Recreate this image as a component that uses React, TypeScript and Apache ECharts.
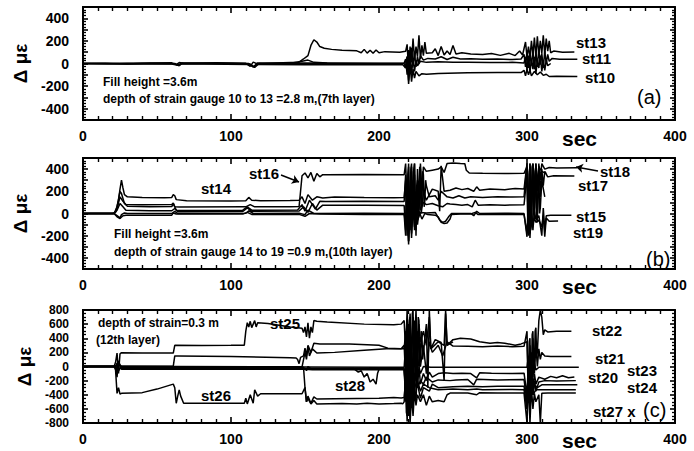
import React, { useEffect, useRef } from 'react';
import * as echarts from 'echarts';

// ---------- data (time in sec, strain change in micro-strain) ----------
const Y_LABELS_AB = [-400, -200, 0, 200, 400];
const Y_LABELS_C = [-800, -600, -400, -200, 0, 200, 400, 600, 800];

// Panel (a)
const A_ST13 = [[0,0],[15,3],[30,-4],[45,4],[60,6],[63,-10],[65,8],[68,2],[90,6],[110,2],[113,-25],[115,12],[118,-4],[135,6],[146,12],[149,40],[152,70],[154,160],[156,210],[158,190],[160,150],[163,135],[168,125],[175,118],[185,112],[188,95],[190,125],[192,92],[194,118],[196,90],[198,120],[200,95],[204,105],[214,100],[218,108],[219,170],[220,-60],[221,150],[222,10],[223,220],[224,30],[225,150],[226,60],[227,250],[228,40],[229,160],[230,70],[231,190],[232,90],[236,95],[238,130],[240,70],[242,150],[244,75],[246,110],[248,80],[250,160],[252,85],[256,95],[262,85],[270,80],[276,88],[282,72],[288,90],[292,70],[295,110],[297,75],[299,190],[300,60],[301,150],[302,50],[303,200],[304,70],[305,230],[306,60],[307,240],[308,80],[309,200],[310,90],[311,250],[312,80],[313,220],[314,110],[315,200],[316,95],[318,110],[324,100],[332,102]];
const A_ST11 = [[0,0],[20,-3],[40,2],[62,0],[64,-15],[67,5],[100,3],[112,0],[115,-30],[118,5],[140,3],[148,20],[152,30],[156,10],[165,5],[200,2],[217,5],[218,40],[219,-100],[220,120],[221,-60],[222,140],[223,-20],[224,90],[225,-30],[226,60],[227,0],[228,70],[230,30],[233,45],[238,40],[242,60],[246,35],[250,55],[255,40],[262,42],[270,38],[280,40],[290,35],[296,40],[298,80],[299,-30],[300,110],[301,-40],[302,90],[303,-20],[304,120],[305,-50],[306,100],[307,-30],[308,130],[309,-10],[310,90],[311,-40],[312,110],[313,0],[314,80],[315,20],[317,45],[322,38],[334,38]];
const A_ST12 = [[0,0],[30,2],[62,-3],[65,-20],[67,0],[113,-5],[116,-35],[119,0],[150,5],[175,3],[200,0],[217,0],[218,-40],[219,60],[220,-150],[221,80],[222,-90],[223,40],[224,-70],[225,30],[226,-20],[228,20],[232,10],[240,15],[250,10],[260,12],[275,8],[290,10],[298,5],[299,60],[300,-60],[301,70],[302,-80],[303,40],[304,-50],[305,60],[306,-90],[307,30],[308,-40],[309,70],[310,-70],[311,20],[312,-60],[313,30],[314,-20],[316,0]];
const A_ST10 = [[0,0],[30,-4],[60,-5],[64,-15],[67,-2],[112,-8],[115,-30],[118,-8],[150,-10],[190,-12],[216,-10],[218,-40],[219,60],[220,-180],[221,-10],[222,-160],[223,-50],[224,-130],[225,-70],[227,-110],[229,-90],[232,-95],[240,-88],[260,-82],[280,-80],[296,-80],[298,-60],[299,-110],[300,-50],[301,-100],[302,-60],[303,-110],[305,-70],[307,-100],[309,-75],[311,-105],[313,-95],[315,-115],[320,-112],[334,-115]];

// Panel (b)
const B_ST14 = [[0,0],[20,0],[22,10],[24,120],[25,220],[26,300],[27,230],[28,170],[30,150],[40,145],[55,142],[60,145],[61,170],[62,160],[63,125],[70,115],[100,112],[110,115],[112,145],[114,120],[120,115],[140,118],[146,120],[148,150],[150,90],[152,170],[155,120],[158,150],[162,140],[170,148],[190,145],[210,143],[217,145],[218,300],[218.5,-50],[219,-100],[219.5,350],[220,420],[220.5,0],[221,-50],[221.5,300],[222,380],[222.5,-20],[223,0],[223.5,400],[224,450],[224.5,-100],[225,-80],[225.5,250],[226,300],[226.5,0],[227,50],[227.5,420],[228,400],[228.5,80],[229,100],[229.5,380],[230,350],[230.5,60],[231,120],[231.5,300],[232,250],[234,150],[238,160],[240,120],[242,200],[246,150],[250,140],[254,160],[258,140],[262,150],[270,145],[280,150],[290,148],[298,150],[300,450],[300.5,0],[301,-100],[301.5,350],[302,400],[302.5,-80],[303,-50],[303.5,420],[304,450],[304.5,50],[305,0],[305.5,380],[306,420],[306.5,-50],[307,-80],[307.5,300],[308,380],[308.5,0],[309,50],[310,300],[312,150]];
const B_ST16 = [[0,0],[21,0],[23,40],[25,150],[27,110],[29,80],[40,78],[60,80],[61,95],[62,60],[65,58],[110,60],[113,80],[116,60],[140,60],[146,62],[147,200],[148,340],[150,365],[152,320],[154,370],[156,290],[158,360],[160,330],[162,350],[165,350],[190,352],[217,350],[218,450],[219,100],[220,450],[221,-150],[222,420],[223,50],[224,450],[225,-200],[226,400],[227,150],[228,450],[229,200],[230,420],[232,380],[236,390],[240,400],[242,420],[244,370],[246,450],[250,455],[255,450],[258,448],[259,390],[261,365],[270,362],[285,360],[298,362],[300,420],[301,0],[302,450],[303,100],[304,440],[305,200],[306,450],[307,250],[308,420],[310,380],[313,360]];
const B_ST17 = [[0,0],[21,0],[23,60],[25,200],[26,180],[28,90],[30,65],[45,60],[60,62],[61,90],[63,30],[70,28],[108,30],[111,60],[114,30],[145,32],[148,80],[150,20],[153,120],[157,40],[160,110],[164,108],[190,110],[217,108],[218,350],[218.5,0],[219,-200],[219.5,250],[220,300],[220.5,-150],[221,-100],[221.5,400],[222,450],[222.5,0],[223,-50],[223.5,300],[224,350],[224.5,-100],[225,-150],[225.5,200],[226,250],[226.5,-50],[227,0],[227.5,280],[228,300],[228.5,0],[229,50],[230,200],[232,120],[236,220],[240,200],[241,20],[242,430],[244,200],[248,210],[252,230],[256,215],[260,225],[264,200],[266,240],[268,210],[275,220],[285,215],[292,225],[298,220],[300,450],[300.5,-100],[301,-200],[301.5,380],[302,420],[302.5,-150],[303,-100],[303.5,400],[304,450],[304.5,0],[305,-50],[305.5,350],[306,400],[306.5,50],[307,0],[308,450],[309,150],[310,400],[311,250],[312,380],[314,330],[318,340],[332,338]];
const B_ST18 = [[0,0],[21,0],[23,30],[25,90],[27,60],[29,30],[45,25],[60,25],[62,45],[64,15],[108,18],[111,50],[114,20],[146,22],[149,60],[152,10],[155,90],[158,30],[162,75],[190,75],[217,72],[218,-150],[219,250],[220,-250],[221,200],[222,-100],[223,300],[224,-50],[225,200],[226,-20],[227,150],[228,30],[230,100],[232,80],[236,90],[240,70],[243,60],[246,90],[248,85],[252,80],[256,75],[260,80],[263,60],[265,120],[267,75],[275,78],[285,75],[298,78],[300,350],[301,-150],[302,450],[303,-50],[304,420],[305,100],[306,450],[307,200],[308,430],[309,300],[310,450],[312,400],[315,415],[320,410],[334,412]];
const B_ST15 = [[0,0],[21,0],[23,-30],[25,-45],[27,-20],[29,-15],[60,-15],[61,5],[63,-5],[108,-5],[111,10],[114,-8],[146,-8],[150,-25],[153,0],[160,-5],[190,-8],[217,-10],[218,-200],[219,200],[220,-280],[221,150],[222,-220],[223,100],[224,-150],[225,50],[226,-100],[227,20],[229,-50],[231,0],[233,-10],[238,-15],[240,-30],[242,-80],[244,-90],[246,-85],[248,-50],[249,-10],[255,-5],[262,-5],[265,10],[267,-10],[275,-8],[290,-10],[298,-10],[300,-180],[301,100],[302,-220],[303,50],[304,-150],[305,20],[306,-50],[308,-20],[310,-200],[311,50],[312,-150],[313,-20],[316,-15],[330,-15]];
const B_ST19 = [[0,0],[21,0],[23,-20],[25,-40],[26,-10],[28,5],[30,0],[60,0],[62,20],[64,0],[110,2],[112,25],[115,0],[146,2],[150,-10],[152,30],[156,0],[190,2],[217,0],[218,-100],[219,150],[220,-250],[221,100],[222,-180],[223,60],[224,-120],[225,30],[226,-60],[228,10],[232,5],[238,10],[241,-60],[243,-80],[245,-70],[247,-30],[249,0],[262,0],[264,-20],[266,20],[268,0],[285,2],[298,0],[300,-210],[301,40],[302,-180],[303,0],[304,-100],[305,-40],[306,-80],[308,-60],[310,-120],[311,-20],[312,-210],[313,-40],[315,-70],[321,-68]];

// Panel (c)
const C_ST25 = [[0,0],[21,0],[22,60],[23,190],[24,-100],[25,180],[26,195],[40,192],[60,190],[61,190],[62,300],[80,298],[100,300],[109,302],[110,500],[111,620],[112,560],[113,640],[114,550],[115,600],[116,650],[117,560],[118,620],[125,610],[140,560],[148,540],[149,480],[150,560],[151,420],[152,620],[153,400],[154,560],[155,480],[156,650],[158,640],[165,630],[190,600],[210,590],[215,600],[217,650],[218,200],[219,800],[220,300],[221,750],[222,100],[223,700],[224,300],[225,800],[226,200],[227,600],[228,350],[230,500],[232,300],[234,700],[235,250],[240,350],[244,300],[245,750],[246,300],[250,350]];
const C_ST22 = [[0,0],[22,0],[23,-40],[24,30],[26,5],[61,5],[62,150],[64,150],[100,140],[140,125],[144,120],[145,100],[146,40],[147,130],[149,150],[150,260],[151,150],[152,300],[154,200],[156,330],[160,320],[180,318],[200,300],[206,260],[215,250],[217,300],[218,-200],[218.5,500],[219,600],[219.5,-300],[220,-400],[220.5,650],[221,700],[221.5,-200],[222,-100],[222.5,750],[223,800],[223.5,100],[224,0],[224.5,600],[225,500],[225.5,-200],[226,-300],[226.5,700],[227,650],[227.5,0],[228,100],[228.5,500],[229,450],[229.5,100],[230,200],[232,600],[233,-300],[234,800],[235,250],[238,380],[242,340],[244,-200],[245,800],[246,300],[250,380],[255,400],[262,390],[268,350],[275,330],[280,340],[285,330],[292,300],[296,320],[300,350],[300.5,-100],[301,-200],[301.5,350],[302,400],[302.5,-250],[303,-300],[303.5,450],[304,500],[304.5,-50],[305,0],[305.5,500],[306,550],[306.5,150],[307,200],[308,650],[309,800],[310,700],[311,450],[312,520],[314,490],[320,500],[330,498]];
const C_ST21 = [[0,0],[22,0],[23,-60],[24,40],[26,-10],[61,-10],[62,0],[140,-5],[148,-5],[150,200],[151,100],[152,280],[153,150],[155,250],[158,190],[170,200],[190,230],[205,250],[215,250],[217,250],[218,500],[218.5,-200],[219,-300],[219.5,550],[220,600],[220.5,-150],[221,-200],[221.5,350],[222,400],[222.5,-300],[223,-350],[223.5,600],[224,650],[224.5,-50],[225,-100],[225.5,450],[226,500],[226.5,50],[228,0],[230,300],[232,-100],[234,350],[236,200],[240,300],[243,150],[246,350],[250,290],[260,285],[270,280],[280,290],[290,280],[298,285],[300,500],[301,-300],[302,300],[303,-200],[304,400],[305,-100],[306,300],[307,0],[308,250],[309,100],[310,200],[312,150],[316,140],[330,140]];
const C_ST23 = [[0,0],[22,0],[23,50],[24,-60],[26,5],[61,0],[62,-10],[120,-5],[150,-8],[200,-10],[217,-10],[218,300],[219,-500],[220,400],[221,-300],[222,200],[223,-400],[224,300],[225,-200],[226,100],[228,-100],[230,0],[235,-10],[260,-10],[300,-10],[301,150],[302,-300],[303,200],[304,-150],[305,50],[306,-50],[308,-10],[335,-10]];
const C_ST20 = [[0,0],[22,0],[23,-100],[24,50],[26,-25],[61,-25],[62,-20],[120,-22],[150,-25],[151,-60],[152,0],[154,-30],[200,-30],[217,-30],[218,-500],[219,200],[220,-600],[221,300],[222,-450],[223,100],[224,-350],[225,200],[226,-300],[227,0],[228,-250],[230,-100],[232,-200],[234,-80],[236,-150],[240,-100],[244,-90],[250,-100],[256,-95],[262,-100],[266,-160],[268,-90],[276,-95],[290,-100],[298,-95],[300,-400],[301,100],[302,-500],[303,0],[304,-300],[305,-100],[306,-250],[308,-150],[312,-180],[316,-140],[320,-160],[324,-130],[328,-160],[332,-150]];
const C_ST24 = [[0,0],[22,0],[23,-150],[24,80],[26,-40],[61,-40],[62,-35],[150,-40],[155,-45],[200,-45],[217,-45],[218,-300],[219,400],[220,-700],[221,200],[222,-500],[223,0],[224,-400],[225,100],[226,-300],[228,-200],[230,-250],[232,-150],[236,-220],[240,-190],[248,-200],[252,-190],[260,-185],[264,-260],[266,-180],[280,-190],[298,-185],[300,-500],[301,0],[302,-600],[303,-100],[304,-400],[305,-200],[306,-350],[308,-220],[312,-200],[320,-205],[333,-200]];
const C_ST26 = [[0,0],[21,0],[22,-50],[23,-380],[24,-300],[25,-390],[26,-380],[40,-370],[50,-320],[61,-250],[62,-300],[63,-520],[64,-420],[65,-330],[66,-420],[68,-520],[90,-520],[109,-520],[110,-450],[111,-530],[113,-400],[115,-520],[116,-330],[118,-420],[120,-386],[140,-386],[148,-386],[150,-300],[151,-500],[152,-420],[154,-520],[156,-430],[158,-460],[170,-455],[200,-450],[210,-440],[215,-445],[217,-440],[218,-200],[218.5,-650],[219,-700],[219.5,-250],[220,-300],[220.5,-600],[221,-650],[221.5,-150],[222,-200],[222.5,-550],[223,-600],[223.5,-250],[224,-300],[224.5,-450],[225,-500],[225.5,-200],[226,-250],[228,-450],[230,-300],[234,-350],[236,-250],[240,-300],[250,-285],[260,-280],[270,-285],[280,-280],[298,-280],[300,-600],[301,-100],[302,-500],[303,-200],[304,-400],[305,-250],[307,-300],[310,-260],[334,-260]];
const C_ST27 = [[0,0],[22,0],[23,20],[24,-40],[26,-15],[61,-15],[62,-10],[145,-12],[149,-10],[150,-300],[151,-500],[152,-450],[154,-530],[156,-480],[158,-530],[175,-525],[185,-530],[192,-520],[200,-530],[210,-525],[215,-520],[216,-530],[217,-500],[218,-100],[219,-780],[220,-300],[221,-800],[222,-400],[223,-700],[224,-350],[225,-550],[226,-400],[228,-500],[230,-400],[232,-550],[234,-420],[236,-500],[240,-480],[244,-500],[246,-400],[248,-376],[260,-376],[266,-400],[268,-370],[280,-376],[298,-376],[300,-800],[301,-200],[302,-800],[303,-300],[304,-600],[305,-380],[306,-500],[308,-400],[309,-800],[310,-380],[314,-376],[333,-376]];
const C_ST28 = [[0,0],[22,0],[23,30],[24,-20],[26,-30],[61,-30],[62,-28],[150,-30],[160,-30],[183,-30],[186,-80],[188,-60],[190,-150],[192,-100],[194,-220],[196,-180],[198,-250],[199,-100],[200,-40],[210,-35],[217,-35],[218,-400],[219,100],[220,-500],[221,0],[222,-350],[223,-100],[224,-300],[226,-200],[228,-350],[230,-250],[234,-300],[240,-330],[250,-320],[260,-330],[266,-320],[270,-330],[290,-325],[298,-330],[300,-600],[301,-100],[302,-450],[303,-250],[304,-400],[306,-330],[333,-330]];

const PANEL_A = [A_ST13, A_ST11, A_ST12, A_ST10];
const PANEL_B = [B_ST14, B_ST16, B_ST17, B_ST18, B_ST15, B_ST19];
const PANEL_C = [C_ST25, C_ST22, C_ST21, C_ST23, C_ST20, C_ST24, C_ST26, C_ST27, C_ST28];

const FONT = "'Liberation Sans', Arial, Helvetica, sans-serif";

const PANELS = [
  { top: 7, height: 113, yMin: -500, yMax: 500, yInt: 100, yMinor: 4, labels: Y_LABELS_AB, labelSize: 14, data: PANEL_A },
  { top: 158, height: 111, yMin: -500, yMax: 500, yInt: 100, yMinor: 4, labels: Y_LABELS_AB, labelSize: 14, data: PANEL_B },
  { top: 310, height: 113, yMin: -800, yMax: 800, yInt: 200, yMinor: 4, labels: Y_LABELS_C, labelSize: 12, data: PANEL_C },
];

// annotation texts: [text, x, y(center), size, weight]
const NOTES: [string, number, number, number, string][] = [
  ['st13', 576, 42, 15, 'bold'], ['st11', 582, 58, 15, 'bold'], ['st10', 585, 77, 15, 'bold'],
  ['(a)', 637, 97, 20, 'normal'],
  ['Fill height =3.6m', 103, 82, 12, 'bold'],
  ['depth of strain gauge 10 to 13 =2.8 m,(7th layer)', 103, 99, 12, 'bold'],
  ['sec', 562, 138, 21, 'bold'],
  ['st14', 201, 188, 15, 'bold'], ['st16', 249, 173, 15, 'bold'],
  ['st18', 600, 171, 15, 'bold'], ['st17', 578, 185, 15, 'bold'],
  ['st15', 576, 216, 15, 'bold'], ['st19', 573, 232, 15, 'bold'],
  ['(b)', 646, 259, 20, 'normal'],
  ['Fill height =3.6m', 114, 234, 12, 'bold'],
  ['depth of strain gauge 14 to 19 =0.9 m,(10th layer)', 114, 252, 12, 'bold'],
  ['sec', 562, 286, 21, 'bold'],
  ['depth of strain=0.3 m', 98, 323, 12, 'bold'], ['(12th layer)', 96, 340, 12, 'bold'],
  ['st25', 270, 323, 15, 'bold'], ['st26', 201, 395, 15, 'bold'], ['st28', 335, 385, 15, 'bold'],
  ['st22', 592, 330, 15, 'bold'], ['st21', 595, 358, 15, 'bold'], ['st23', 627, 370, 15, 'bold'],
  ['st20', 588, 377, 15, 'bold'], ['st24', 627, 387, 15, 'bold'], ['st27 x', 593, 411, 15, 'bold'],
  ['(c)', 643, 410, 20, 'normal'],
  ['sec', 562, 440, 21, 'bold'],
];

function buildOption() {
  const grid: any[] = [];
  const xAxis: any[] = [];
  const yAxis: any[] = [];
  const series: any[] = [];
  const n = PANELS.length;
  // data grids 0..n-1 carry series and labels; frame grids n..2n-1 only draw the boxed tick frame
  PANELS.forEach((p) => grid.push({ left: 83, width: 592, top: p.top, height: p.height }));
  PANELS.forEach((p) => grid.push({ left: 83, width: 592, top: p.top, height: p.height }));

  const tickX = (g: number, pos: string) => ({
    type: 'value', gridIndex: g, min: 0, max: 400, interval: 100, position: pos,
    axisLine: { show: true, onZero: false, lineStyle: { color: '#000', width: 2 } },
    splitLine: { show: false },
    axisTick: { show: true, inside: true, length: 6, lineStyle: { color: '#000', width: 1.6 } },
    minorTick: { show: true, splitNumber: 10, length: 4, lineStyle: { color: '#000', width: 1.4 } },
    axisLabel: { show: false },
  });
  const tickY = (g: number, p: any, pos: string) => ({
    type: 'value', gridIndex: g, min: p.yMin, max: p.yMax, interval: p.yInt, position: pos,
    axisLine: { show: true, onZero: false, lineStyle: { color: '#000', width: 2 } },
    splitLine: { show: false },
    axisTick: { show: true, inside: true, length: 5, lineStyle: { color: '#000', width: 1.6 } },
    minorTick: { show: true, splitNumber: p.yMinor, length: 3, lineStyle: { color: '#000', width: 1.3 } },
    axisLabel: { show: false },
  });

  PANELS.forEach((p, i) => {
    xAxis.push({
      type: 'value', gridIndex: i, min: 0, max: 400, interval: 100, position: 'bottom',
      axisLine: { show: true, onZero: false, lineStyle: { color: '#000', width: 2 } },
      splitLine: { show: false }, axisTick: { show: false },
      axisLabel: { show: true, color: '#000', fontSize: 14, fontWeight: 'bold', fontFamily: FONT, margin: 9 },
    });
    yAxis.push({
      type: 'value', gridIndex: i, min: p.yMin, max: p.yMax, interval: p.yInt, position: 'left',
      axisLine: { show: true, onZero: false, lineStyle: { color: '#000', width: 2 } },
      splitLine: { show: false }, axisTick: { show: false },
      name: 'Δ με', nameLocation: 'middle', nameGap: 42, nameRotate: 90,
      nameTextStyle: { color: '#000', fontSize: 19, fontWeight: 'bold', fontFamily: FONT },
      axisLabel: { show: true, customValues: p.labels, color: '#000', fontSize: p.labelSize, fontWeight: 'bold', fontFamily: FONT, margin: 14 },
    });
  });
  PANELS.forEach((p, i) => {
    const g = n + i;
    xAxis.push(tickX(g, 'bottom'));
    xAxis.push(tickX(g, 'top'));
    yAxis.push(tickY(g, p, 'left'));
    yAxis.push(tickY(g, p, 'right'));
  });

  PANELS.forEach((p, i) => {
    p.data.forEach((d, k) => {
      const s: any = {
        type: 'line', xAxisIndex: i, yAxisIndex: i, data: d,
        showSymbol: false, symbol: 'none',
        lineStyle: { color: '#000', width: 1.5 },
      };
      if (i === 1 && k === 0) {
        // arrows pointing from the st16 and st18 labels to their curves
        s.markLine = {
          silent: true, symbol: ['none', 'arrow'], symbolSize: 7,
          lineStyle: { color: '#000', width: 1.5, type: 'solid' },
          label: { show: false },
          data: [
            [{ x: 281, y: 175 }, { x: 299, y: 182 }],
            [{ x: 598, y: 171 }, { x: 576, y: 167 }],
          ],
        };
      }
      series.push(s);
    });
  });

  const title = NOTES.map(([text, x, y, size, weight]) => ({
    text, left: x, top: y - size / 2, padding: 0,
    textStyle: { color: '#000', fontSize: size, fontWeight: weight, fontFamily: FONT, lineHeight: size },
  }));

  return { animation: false, title, grid, xAxis, yAxis, series };
}

export default function App() {
  const ref = useRef<HTMLDivElement>(null);
  useEffect(() => {
    if (!ref.current) return;
    const chart = echarts.init(ref.current, undefined, { renderer: 'svg' });
    chart.setOption(buildOption() as any);
    return () => chart.dispose();
  }, []);
  return <div ref={ref} style={{ position: 'fixed', left: 0, top: 0, width: 694, height: 451, background: '#fff' }} />;
}
